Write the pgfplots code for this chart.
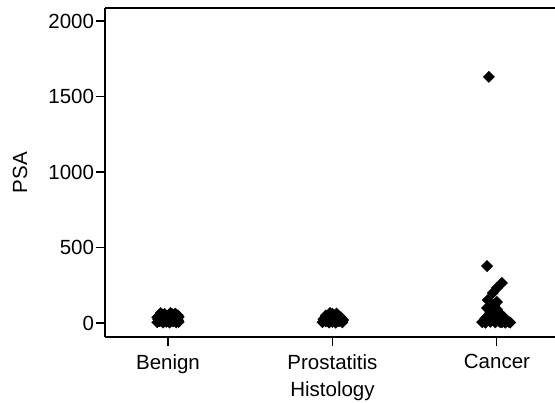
\documentclass[border=0pt]{standalone}
\usepackage{fontspec}
\setmainfont{Liberation Sans}
\usepackage{pgfplots}
\pgfplotsset{compat=1.18}
\usetikzlibrary{calc}
\begin{document}
\begin{tikzpicture}
\begin{axis}[
  name=ax,
  scale only axis,
  width=450bp, height=329bp,
  xmin=-0.383, xmax=2.353,
  ymin=-93, ymax=2086,
  axis x line*=box,
  axis y line*=left,
  xtick pos=bottom,
  ytick pos=left,
  axis line style={line width=1.3bp, black},
  x axis line style={line width=1.8bp},
  tick align=outside,
  major tick length=9bp,
  tick style={line width=1.1bp, black},
  xtick={0,1,2},
  xticklabels={Benign,Prostatitis,Cancer},
  ytick={0,500,1000,1500,2000},
  scaled y ticks=false,
  /pgf/number format/assume math mode=true,
  /pgf/number format/1000 sep={},
  ticklabel style={font=\fontsize{20.5bp}{24bp}\selectfont},
  xticklabel style={yshift=-5bp},
  yticklabel style={xshift=1.5bp},
  label style={font=\fontsize{20.5bp}{24bp}\selectfont},
  xlabel={Histology},
  ylabel={PSA},
  xlabel style={at={(axis description cs:0.5055,-0.165)}, anchor=center},
  ylabel style={at={(axis description cs:-0.189,0.5)}, anchor=center},
  clip=false,
]
\addplot[only marks, mark=square*, mark size=4bp, mark options={rotate=45, fill=black, draw=black}] coordinates {
% Benign
(-0.065,5) (-0.05,12) (-0.03,3) (-0.01,8) (0.01,2) (0.03,10) (0.05,4) (0.065,7)
(-0.06,25) (-0.04,30) (-0.02,20) (0,28) (0.02,22) (0.04,35) (0.06,18)
(-0.055,45) (-0.035,55) (-0.02,60) (0.0,40) (0.025,58) (0.045,62) (0.06,50)
(-0.045,65) (-0.03,48) (0.015,65) (0.035,52) (-0.065,38) (0.065,40) (-0.01,15) (0.05,25)
% Prostatitis
(0.94,5) (0.96,10) (0.98,3) (1.0,7) (1.02,2) (1.04,12) (1.06,4) (1.065,20)
(0.945,25) (0.97,35) (0.99,45) (1.01,30) (1.03,50) (1.05,38) (0.985,65) (1.0,60)
(1.025,62) (0.96,50) (1.045,15)
% Cancer
(1.951,1630) (1.94,377) (2.03,265) (2.0,232) (1.975,199) (1.945,152) (2.0,139)
(1.94,99) (1.97,110) (2.0,90) (1.96,70) (1.99,60) (2.02,55) (2.04,40) (1.93,30)
(1.95,20) (1.98,25) (2.01,15) (2.03,20) (2.06,10) (2.08,3) (1.91,5) (1.93,2)
(1.96,8) (1.99,4) (2.02,6) (2.05,2) (2.07,8) (1.92,12) (2.04,28) (1.985,45) (1.955,50)
(1.97,40) (2.0,30) (2.02,35) (1.98,80) (2.01,70) (2.03,5) (1.94,40) (1.955,85) (1.985,120)
};
\end{axis}
\pgfresetboundingbox
\path[use as bounding box] ($(ax.south west)+(-105bp,-66bp)$) rectangle ($(ax.north east)+(0bp,8bp)$);
\end{tikzpicture}
\end{document}
